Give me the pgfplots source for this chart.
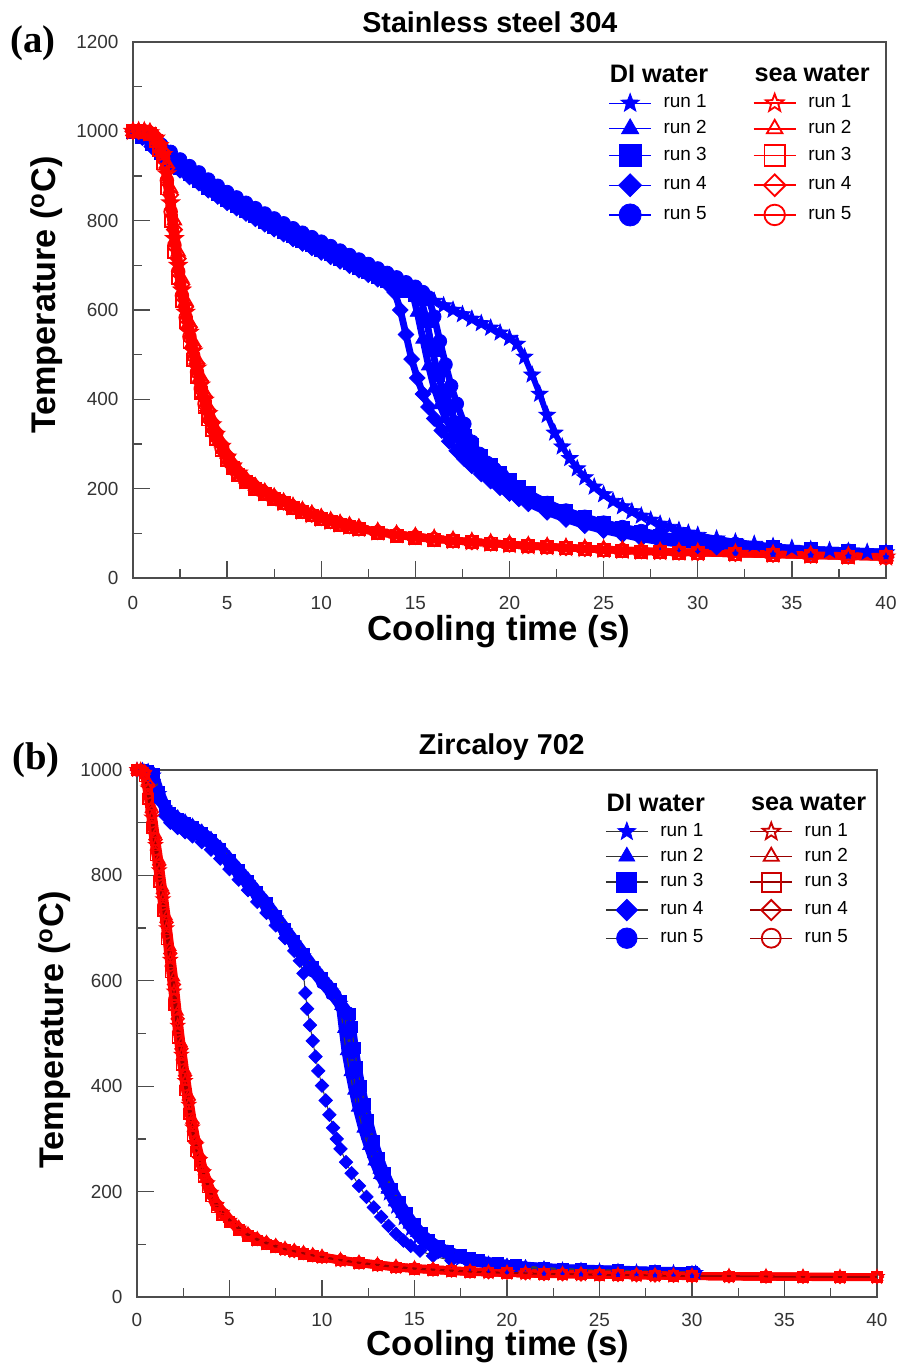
\documentclass[border=0pt]{standalone}
\usepackage{fontspec}
\setmainfont{Liberation Sans}
\newfontfamily\timesf{Liberation Serif}
\usepackage{pgfplots}
\usepackage{pgfplotstable}
\pgfplotsset{compat=1.18}

\def\starpath{%
 \pgfpathmoveto{\pgfpointpolar{90}{\pgfplotmarksize}}%
 \pgfpathlineto{\pgfpointpolar{126}{0.42\pgfplotmarksize}}%
 \pgfpathlineto{\pgfpointpolar{162}{\pgfplotmarksize}}%
 \pgfpathlineto{\pgfpointpolar{198}{0.42\pgfplotmarksize}}%
 \pgfpathlineto{\pgfpointpolar{234}{\pgfplotmarksize}}%
 \pgfpathlineto{\pgfpointpolar{270}{0.42\pgfplotmarksize}}%
 \pgfpathlineto{\pgfpointpolar{306}{\pgfplotmarksize}}%
 \pgfpathlineto{\pgfpointpolar{342}{0.42\pgfplotmarksize}}%
 \pgfpathlineto{\pgfpointpolar{18}{\pgfplotmarksize}}%
 \pgfpathlineto{\pgfpointpolar{54}{0.42\pgfplotmarksize}}%
 \pgfpathclose}
\pgfdeclareplotmark{fstar}{\starpath\pgfusepathqfillstroke}
\pgfdeclareplotmark{ostar}{\starpath\pgfusepathqstroke}

% ---------------- panel (a): stainless steel 304 ----------------
\pgfplotstableread[row sep=\\]{t T\\
0 1000\\ 0.5 990\\ 1 975\\ 1.5 958\\ 2 942\\ 2.5 925\\ 3 910\\ 3.5 896\\ 4 880\\ 4.5 866\\ 5 852\\ 5.5 840\\ 6 828\\ 6.5 816\\ 7 804\\ 7.5 793\\ 8 782\\ 8.5 771\\ 9 761\\ 9.5 751\\ 10 741\\ 10.5 731\\ 11 721\\ 11.5 711\\ 12 701\\ 12.5 691\\ 13 681\\ 13.5 671\\ 14 661\\ 14.5 650\\ 15 640\\ 15.5 630\\ 16 620\\ 16.5 610\\ 17 600\\ 17.5 590\\ 18 580\\ 18.5 570\\ 19 560\\ 19.5 549\\ 20 537\\ 20.4 524\\ 20.8 495\\ 21.2 455\\ 21.6 412\\ 22 365\\ 22.4 325\\ 22.8 294\\ 23.2 268\\ 23.6 245\\ 24 225\\ 24.5 204\\ 25 187\\ 25.5 172\\ 26 160\\ 26.5 149\\ 27 139\\ 27.5 130\\ 28 121\\ 28.5 114\\ 29 107\\ 29.5 101\\ 30 96\\ 31 88\\ 32 81\\ 33 76\\ 34 71\\ 35 67\\ 36 64\\ 37 62\\ 38 60\\ 39 58\\ 40 57\\
}\aDIi
\pgfplotstableread[row sep=\\]{t T\\
0 1000\\ 0.5 994\\ 1 981\\ 1.5 964\\ 2 948\\ 2.5 931\\ 3 916\\ 3.5 902\\ 4 886\\ 4.5 872\\ 5 858\\ 5.5 846\\ 6 834\\ 6.5 822\\ 7 810\\ 7.5 799\\ 8 788\\ 8.5 777\\ 9 767\\ 9.5 757\\ 10 747\\ 10.5 737\\ 11 727\\ 11.5 717\\ 12 707\\ 12.5 697\\ 13 687\\ 13.5 677\\ 14 667\\ 14.5 656\\ 14.8 646\\ 15.1 595\\ 15.4 535\\ 15.7 475\\ 16 425\\ 16.3 388\\ 16.6 357\\ 17 326\\ 17.5 294\\ 18 268\\ 18.5 247\\ 19 229\\ 19.5 213\\ 20 199\\ 20.5 186\\ 21 175\\ 22 155\\ 23 139\\ 24 125\\ 25 113\\ 26 103\\ 27 95\\ 28 88\\ 29 82\\ 30 77\\ 31 73\\ 32 70\\ 34 64\\ 36 60\\ 38 57\\ 40 54\\
}\aDIii
\pgfplotstableread[row sep=\\]{t T\\
0 1000\\ 0.5 988\\ 1 971\\ 1.5 952\\ 2 936\\ 2.5 919\\ 3 904\\ 3.5 890\\ 4 874\\ 4.5 860\\ 5 846\\ 5.5 834\\ 6 822\\ 6.5 810\\ 7 798\\ 7.5 787\\ 8 776\\ 8.5 765\\ 9 755\\ 9.5 745\\ 10 735\\ 10.5 725\\ 11 715\\ 11.5 705\\ 12 695\\ 12.5 685\\ 13 675\\ 13.5 665\\ 14 655\\ 14.5 644\\ 15 634\\ 15.3 625\\ 15.6 575\\ 15.9 510\\ 16.2 455\\ 16.5 413\\ 16.8 380\\ 17.2 346\\ 17.6 319\\ 18 297\\ 18.5 273\\ 19 253\\ 19.5 235\\ 20 219\\ 20.5 204\\ 21 191\\ 22 169\\ 23 151\\ 24 136\\ 25 123\\ 26 112\\ 27 103\\ 28 95\\ 29 89\\ 30 83\\ 31 79\\ 32 75\\ 34 69\\ 36 64\\ 38 61\\ 40 58\\
}\aDIiii
\pgfplotstableread[row sep=\\]{t T\\
0 1000\\ 0.5 986\\ 1 966\\ 1.5 946\\ 2 930\\ 2.5 913\\ 3 898\\ 3.5 884\\ 4 868\\ 4.5 854\\ 5 840\\ 5.5 828\\ 6 816\\ 6.5 804\\ 7 792\\ 7.5 781\\ 8 770\\ 8.5 759\\ 9 749\\ 9.5 739\\ 10 729\\ 10.5 719\\ 11 709\\ 11.5 699\\ 12 689\\ 12.5 679\\ 13 669\\ 13.5 659\\ 13.9 640\\ 14.2 600\\ 14.5 545\\ 14.8 490\\ 15.1 448\\ 15.4 412\\ 15.7 383\\ 16 357\\ 16.4 330\\ 16.8 306\\ 17.2 285\\ 17.6 267\\ 18 251\\ 18.5 233\\ 19 217\\ 19.5 202\\ 20 189\\ 20.5 177\\ 21 166\\ 22 147\\ 23 131\\ 24 117\\ 25 106\\ 26 97\\ 27 88\\ 28 81\\ 29 76\\ 30 72\\ 31 69\\ 32 66\\ 34 61\\ 36 57\\ 38 55\\ 40 52\\
}\aDIiv
\pgfplotstableread[row sep=\\]{t T\\
0 1000\\ 0.5 995\\ 1 984\\ 1.5 970\\ 2 954\\ 2.5 937\\ 3 922\\ 3.5 908\\ 4 892\\ 4.5 878\\ 5 864\\ 5.5 852\\ 6 840\\ 6.5 828\\ 7 816\\ 7.5 805\\ 8 794\\ 8.5 783\\ 9 773\\ 9.5 763\\ 10 753\\ 10.5 743\\ 11 733\\ 11.5 723\\ 12 713\\ 12.5 703\\ 13 693\\ 13.5 683\\ 14 673\\ 14.5 662\\ 15 652\\ 15.4 640\\ 15.7 628\\ 16 585\\ 16.3 530\\ 16.6 478\\ 16.9 430\\ 17.2 390\\ 17.6 345\\ 18 305\\ 18.4 278\\ 18.8 258\\ 19.2 244\\ 19.6 230\\ 20 216\\ 20.5 201\\ 21 189\\ 22 168\\ 23 151\\ 24 137\\ 25 124\\ 26 114\\ 27 105\\ 28 97\\ 29 90\\ 30 84\\ 31 80\\ 32 76\\ 34 69\\ 36 64\\ 38 61\\ 40 58\\
}\aDIv
\pgfplotstableread[row sep=\\]{t T\\
0 1000\\ 0.3 1000\\ 0.6 1000\\ 0.9 997\\ 1.2 985\\ 1.4 968\\ 1.6 948\\ 1.8 905\\ 2 840\\ 2.2 760\\ 2.4 700\\ 2.6 645\\ 2.8 595\\ 3 550\\ 3.2 508\\ 3.4 470\\ 3.6 432\\ 3.8 398\\ 4 368\\ 4.2 343\\ 4.4 322\\ 4.7 295\\ 5 271\\ 5.3 251\\ 5.6 235\\ 6 218\\ 6.5 203\\ 7 191\\ 7.5 180\\ 8 169\\ 8.5 159\\ 9 150\\ 9.5 142\\ 10 134\\ 10.5 127\\ 11 121\\ 11.5 116\\ 12 111\\ 13 103\\ 14 97\\ 15 92\\ 16 88\\ 17 84\\ 18 81\\ 19 78\\ 20 75\\ 21 72\\ 22 70\\ 23 68\\ 24 66\\ 25 64\\ 26 62\\ 27 60\\ 28 59\\ 29 58\\ 30 57\\ 32 55\\ 34 53\\ 36 51\\ 38 49\\ 40 47\\
}\aSWi
\pgfplotstableread[row sep=\\]{t T\\
0 1000\\ 0.3 1000\\ 0.6 1000\\ 0.9 999\\ 1.2 990\\ 1.4 976\\ 1.6 958\\ 1.8 928\\ 2 872\\ 2.2 800\\ 2.4 730\\ 2.6 670\\ 2.8 620\\ 3 572\\ 3.2 529\\ 3.4 489\\ 3.6 451\\ 3.8 415\\ 4 383\\ 4.2 355\\ 4.4 332\\ 4.7 303\\ 5 278\\ 5.3 257\\ 5.6 240\\ 6 222\\ 6.5 206\\ 7 193\\ 7.5 182\\ 8 171\\ 8.5 161\\ 9 152\\ 9.5 144\\ 10 136\\ 10.5 129\\ 11 123\\ 11.5 118\\ 12 113\\ 13 105\\ 14 99\\ 15 94\\ 16 89\\ 17 85\\ 18 82\\ 19 79\\ 20 76\\ 21 73\\ 22 71\\ 23 69\\ 24 67\\ 25 65\\ 26 63\\ 27 61\\ 28 60\\ 29 59\\ 30 58\\ 32 56\\ 34 54\\ 36 52\\ 38 50\\ 40 48\\
}\aSWii
\pgfplotstableread[row sep=\\]{t T\\
0 1000\\ 0.3 1000\\ 0.6 999\\ 0.9 994\\ 1.2 978\\ 1.4 958\\ 1.6 928\\ 1.8 872\\ 2 800\\ 2.2 730\\ 2.4 672\\ 2.6 620\\ 2.8 572\\ 3 529\\ 3.2 489\\ 3.4 451\\ 3.6 415\\ 3.8 383\\ 4 355\\ 4.2 332\\ 4.4 312\\ 4.7 287\\ 5 264\\ 5.3 246\\ 5.6 230\\ 6 214\\ 6.5 200\\ 7 188\\ 7.5 177\\ 8 167\\ 8.5 157\\ 9 148\\ 9.5 140\\ 10 132\\ 10.5 125\\ 11 119\\ 11.5 114\\ 12 109\\ 13 101\\ 14 95\\ 15 90\\ 16 86\\ 17 83\\ 18 80\\ 19 77\\ 20 74\\ 21 71\\ 22 69\\ 23 67\\ 24 65\\ 25 63\\ 26 61\\ 27 59\\ 28 58\\ 29 57\\ 30 56\\ 32 54\\ 34 52\\ 36 50\\ 38 48\\ 40 46\\
}\aSWiii
\pgfplotstableread[row sep=\\]{t T\\
0 1000\\ 0.3 1000\\ 0.6 1000\\ 0.9 998\\ 1.2 988\\ 1.4 972\\ 1.6 953\\ 1.8 918\\ 2 858\\ 2.2 780\\ 2.4 715\\ 2.6 657\\ 2.8 607\\ 3 561\\ 3.2 518\\ 3.4 480\\ 3.6 441\\ 3.8 406\\ 4 375\\ 4.2 349\\ 4.4 327\\ 4.7 299\\ 5 274\\ 5.3 254\\ 5.6 237\\ 6 220\\ 6.5 205\\ 7 192\\ 7.5 181\\ 8 170\\ 8.5 160\\ 9 151\\ 9.5 143\\ 10 135\\ 10.5 128\\ 11 122\\ 11.5 117\\ 12 112\\ 13 104\\ 14 98\\ 15 93\\ 16 88\\ 17 85\\ 18 81\\ 19 78\\ 20 76\\ 21 73\\ 22 71\\ 23 68\\ 24 66\\ 25 64\\ 26 63\\ 27 61\\ 28 60\\ 29 58\\ 30 57\\ 32 55\\ 34 53\\ 36 51\\ 38 49\\ 40 47\\
}\aSWiv
\pgfplotstableread[row sep=\\]{t T\\
0 1000\\ 0.3 1000\\ 0.6 1000\\ 0.9 996\\ 1.2 982\\ 1.4 963\\ 1.6 940\\ 1.8 890\\ 2 820\\ 2.2 745\\ 2.4 686\\ 2.6 632\\ 2.8 583\\ 3 540\\ 3.2 498\\ 3.4 461\\ 3.6 424\\ 3.8 390\\ 4 361\\ 4.2 337\\ 4.4 317\\ 4.7 291\\ 5 267\\ 5.3 248\\ 5.6 232\\ 6 216\\ 6.5 201\\ 7 189\\ 7.5 178\\ 8 168\\ 8.5 158\\ 9 149\\ 9.5 141\\ 10 133\\ 10.5 126\\ 11 120\\ 11.5 115\\ 12 110\\ 13 102\\ 14 96\\ 15 91\\ 16 87\\ 17 83\\ 18 80\\ 19 77\\ 20 74\\ 21 71\\ 22 69\\ 23 67\\ 24 65\\ 25 63\\ 26 62\\ 27 60\\ 28 59\\ 29 57\\ 30 56\\ 32 54\\ 34 52\\ 36 50\\ 38 48\\ 40 46\\
}\aSWv

% ---------------- panel (b): Zircaloy 702 ----------------
\pgfplotstableread[row sep=\\]{t T\\
0 1000\\ 0.3 1000\\ 0.6 998\\ 0.9 990\\ 1.2 955\\ 1.5 928\\ 1.8 914\\ 2.2 904\\ 2.6 896\\ 3 888\\ 3.5 877\\ 4 863\\ 4.5 846\\ 5 826\\ 5.5 806\\ 6 786\\ 6.5 764\\ 7 743\\ 7.5 719\\ 8 695\\ 8.5 671\\ 9 647\\ 9.5 623\\ 10 601\\ 10.5 580\\ 11 557\\ 11.2 545\\ 11.35 505\\ 11.5 465\\ 11.7 422\\ 11.9 386\\ 12.1 352\\ 12.4 311\\ 12.7 276\\ 13 246\\ 13.3 219\\ 13.6 196\\ 14 171\\ 14.4 149\\ 14.8 129\\ 15.2 113\\ 15.6 101\\ 16 92\\ 16.5 84\\ 17 77\\ 17.5 72\\ 18 68\\ 19 62\\ 20 58\\ 21 56\\ 22 54\\ 23 52\\ 24 51\\ 25 50\\ 26 49\\ 27 48\\ 28 47\\ 29 47\\ 30.2 46\\
}\bDIi
\pgfplotstableread[row sep=\\]{t T\\
0 1000\\ 0.3 1000\\ 0.6 999\\ 0.9 994\\ 1.2 962\\ 1.5 936\\ 1.8 922\\ 2.2 912\\ 2.6 904\\ 3 896\\ 3.5 885\\ 4 871\\ 4.5 854\\ 5 834\\ 5.5 814\\ 6 794\\ 6.5 772\\ 7 751\\ 7.5 727\\ 8 703\\ 8.5 679\\ 9 655\\ 9.5 631\\ 10 609\\ 10.5 588\\ 10.8 575\\ 11 552\\ 11.15 508\\ 11.3 466\\ 11.5 426\\ 11.7 391\\ 11.9 359\\ 12.2 319\\ 12.5 286\\ 12.8 257\\ 13.1 231\\ 13.5 203\\ 13.9 179\\ 14.3 157\\ 14.7 137\\ 15.1 121\\ 15.5 108\\ 16 97\\ 16.5 88\\ 17 81\\ 17.5 75\\ 18 71\\ 19 65\\ 20 61\\ 21 58\\ 22 55\\ 23 53\\ 24 52\\ 26 50\\ 28 48\\ 30 47\\
}\bDIii
\pgfplotstableread[row sep=\\]{t T\\
0 1000\\ 0.3 1000\\ 0.6 998\\ 0.9 992\\ 1.2 958\\ 1.5 932\\ 1.8 918\\ 2.2 908\\ 2.6 900\\ 3 892\\ 3.5 881\\ 4 867\\ 4.5 850\\ 5 830\\ 5.5 810\\ 6 790\\ 6.5 768\\ 7 747\\ 7.5 723\\ 8 699\\ 8.5 675\\ 9 651\\ 9.5 627\\ 10 605\\ 10.5 584\\ 11 561\\ 11.5 538\\ 11.6 512\\ 11.75 472\\ 11.9 437\\ 12.1 401\\ 12.3 366\\ 12.5 336\\ 12.8 296\\ 13.1 263\\ 13.4 236\\ 13.8 206\\ 14.2 181\\ 14.6 159\\ 15 139\\ 15.4 122\\ 15.8 109\\ 16.3 97\\ 16.8 88\\ 17.5 79\\ 18 74\\ 18.5 70\\ 19.5 64\\ 20.5 60\\ 22 56\\ 23 54\\ 24 53\\ 26 51\\ 28 49\\ 30 48\\
}\bDIiii
\pgfplotstableread[row sep=\\]{t T\\
0 1000\\ 0.3 999\\ 0.6 995\\ 0.9 982\\ 1.2 942\\ 1.5 914\\ 1.8 900\\ 2.2 890\\ 2.6 882\\ 3 874\\ 3.5 863\\ 4 849\\ 4.5 832\\ 5 812\\ 5.5 792\\ 6 772\\ 6.5 750\\ 7 729\\ 7.5 705\\ 8 681\\ 8.5 657\\ 8.8 638\\ 9 614\\ 9.1 577\\ 9.2 547\\ 9.35 516\\ 9.5 486\\ 9.65 456\\ 9.8 429\\ 10 401\\ 10.2 373\\ 10.4 346\\ 10.6 321\\ 10.8 300\\ 11 281\\ 11.3 256\\ 11.6 235\\ 12 211\\ 12.4 190\\ 12.8 170\\ 13.2 152\\ 13.6 135\\ 14 120\\ 14.4 107\\ 14.8 97\\ 15.3 88\\ 16 78\\ 17 69\\ 18 63\\ 19 59\\ 20 56\\ 22 52\\ 24 49\\ 26 47\\ 28 46\\ 30 45\\
}\bDIiv
\pgfplotstableread[row sep=\\]{t T\\
0 1000\\ 0.3 1000\\ 0.6 997\\ 0.9 986\\ 1.2 949\\ 1.5 922\\ 1.8 908\\ 2.2 898\\ 2.6 890\\ 3 882\\ 3.5 871\\ 4 857\\ 4.5 840\\ 5 820\\ 5.5 800\\ 6 780\\ 6.5 758\\ 7 737\\ 7.5 713\\ 8 689\\ 8.5 665\\ 9 641\\ 9.5 617\\ 10 595\\ 10.5 574\\ 11 551\\ 11.3 536\\ 11.45 500\\ 11.6 462\\ 11.8 425\\ 12 390\\ 12.2 358\\ 12.5 320\\ 12.8 286\\ 13.1 257\\ 13.4 231\\ 13.8 203\\ 14.2 178\\ 14.6 156\\ 15 137\\ 15.4 121\\ 15.8 109\\ 16.3 97\\ 16.8 88\\ 17.5 79\\ 18 74\\ 18.5 70\\ 19.5 64\\ 20.5 60\\ 22 55\\ 23 53\\ 24 52\\ 26 50\\ 28 48\\ 30.2 47\\
}\bDIv
\pgfplotstableread[row sep=\\]{t T\\
0 1000\\ 0.2 1000\\ 0.4 995\\ 0.6 965\\ 0.8 910\\ 1 858\\ 1.2 810\\ 1.4 755\\ 1.6 700\\ 1.8 640\\ 2 580\\ 2.2 515\\ 2.4 460\\ 2.6 410\\ 2.8 365\\ 3 322\\ 3.2 288\\ 3.4 260\\ 3.6 237\\ 3.8 216\\ 4 198\\ 4.3 175\\ 4.6 160\\ 5 145\\ 5.5 130\\ 6 118\\ 6.5 109\\ 7 102\\ 7.5 96\\ 8 91\\ 8.5 87\\ 9 83\\ 9.5 79\\ 10 76\\ 11 70\\ 12 65\\ 13 61\\ 14 57\\ 15 54\\ 16 52\\ 17 50\\ 18 48\\ 19 47\\ 20 46\\ 21 45\\ 22 44\\ 23 43.5\\ 24 43\\ 25 42.5\\ 26 42\\ 27 41.5\\ 28 41\\ 29 40.5\\ 30 40\\ 32 39.5\\ 34 39\\ 36 38.5\\ 38 38\\ 40 38\\
}\bSWi
\pgfplotstableread[row sep=\\]{t T\\
0 1000\\ 0.2 1000\\ 0.4 998\\ 0.6 978\\ 0.8 930\\ 1 878\\ 1.2 830\\ 1.4 777\\ 1.6 722\\ 1.8 664\\ 2 606\\ 2.2 541\\ 2.4 482\\ 2.6 430\\ 2.8 383\\ 3 338\\ 3.2 300\\ 3.4 270\\ 3.6 245\\ 3.8 224\\ 4 205\\ 4.3 180\\ 4.6 164\\ 5 148\\ 5.5 133\\ 6 120\\ 6.5 111\\ 7 104\\ 7.5 98\\ 8 92\\ 8.5 88\\ 9 84\\ 9.5 80\\ 10 77\\ 11 71\\ 12 66\\ 13 62\\ 14 58\\ 15 55\\ 16 53\\ 17 51\\ 18 49\\ 19 47.5\\ 20 46.5\\ 21 45.5\\ 22 44.5\\ 23 43.5\\ 24 43\\ 25 42.5\\ 26 42\\ 27 41.5\\ 28 41\\ 29 40.5\\ 30 40\\ 32 39.5\\ 34 39\\ 36 38.5\\ 38 38\\ 40 38\\
}\bSWii
\pgfplotstableread[row sep=\\]{t T\\
0 1000\\ 0.2 999\\ 0.4 988\\ 0.6 945\\ 0.8 890\\ 1 838\\ 1.2 788\\ 1.4 733\\ 1.6 678\\ 1.8 616\\ 2 554\\ 2.2 492\\ 2.4 440\\ 2.6 392\\ 2.8 347\\ 3 306\\ 3.2 276\\ 3.4 250\\ 3.6 228\\ 3.8 208\\ 4 191\\ 4.3 170\\ 4.6 156\\ 5 142\\ 5.5 127\\ 6 116\\ 6.5 107\\ 7 100\\ 7.5 94\\ 8 90\\ 8.5 86\\ 9 82\\ 9.5 78\\ 10 75\\ 11 69\\ 12 64\\ 13 60\\ 14 56\\ 15 53\\ 16 51\\ 17 49\\ 18 47.5\\ 19 46.5\\ 20 45.5\\ 21 44.5\\ 22 43.5\\ 23 43\\ 24 42.5\\ 25 42\\ 26 41.5\\ 27 41\\ 28 40.5\\ 29 40\\ 30 39.5\\ 32 39\\ 34 38.5\\ 36 38\\ 38 37.5\\ 40 37.5\\
}\bSWiii
\pgfplotstableread[row sep=\\]{t T\\
0 1000\\ 0.2 1000\\ 0.4 997\\ 0.6 972\\ 0.8 920\\ 1 868\\ 1.2 820\\ 1.4 766\\ 1.6 711\\ 1.8 652\\ 2 593\\ 2.2 528\\ 2.4 471\\ 2.6 420\\ 2.8 374\\ 3 330\\ 3.2 294\\ 3.4 265\\ 3.6 241\\ 3.8 220\\ 4 201\\ 4.3 177\\ 4.6 162\\ 5 146\\ 5.5 131\\ 6 119\\ 6.5 110\\ 7 103\\ 7.5 97\\ 8 91.5\\ 8.5 87.5\\ 9 83.5\\ 9.5 79.5\\ 10 76.5\\ 11 70.5\\ 12 65.5\\ 13 61.5\\ 14 57.5\\ 15 54.5\\ 16 52.5\\ 17 50.5\\ 18 48.5\\ 19 47\\ 20 46\\ 21 45\\ 22 44\\ 23 43.5\\ 24 43\\ 25 42.5\\ 26 42\\ 27 41.5\\ 28 41\\ 29 40.5\\ 30 40\\ 32 39.5\\ 34 39\\ 36 38.5\\ 38 38\\ 40 38\\
}\bSWiv
\pgfplotstableread[row sep=\\]{t T\\
0 1000\\ 0.2 1000\\ 0.4 992\\ 0.6 955\\ 0.8 900\\ 1 848\\ 1.2 799\\ 1.4 744\\ 1.6 689\\ 1.8 628\\ 2 567\\ 2.2 503\\ 2.4 450\\ 2.6 401\\ 2.8 356\\ 3 314\\ 3.2 282\\ 3.4 255\\ 3.6 232\\ 3.8 212\\ 4 194\\ 4.3 172\\ 4.6 158\\ 5 143\\ 5.5 128\\ 6 117\\ 6.5 108\\ 7 101\\ 7.5 95\\ 8 90.5\\ 8.5 86.5\\ 9 82.5\\ 9.5 78.5\\ 10 75.5\\ 11 69.5\\ 12 64.5\\ 13 60.5\\ 14 56.5\\ 15 53.5\\ 16 51.5\\ 17 49.5\\ 18 48\\ 19 47\\ 20 46\\ 21 45\\ 22 44\\ 23 43.5\\ 24 43\\ 25 42.5\\ 26 42\\ 27 41.5\\ 28 41\\ 29 40.5\\ 30 40\\ 32 39.5\\ 34 39\\ 36 38.5\\ 38 38\\ 40 38\\
}\bSWv

\pgfplotsset{
 myaxis/.style={
  scale only axis, xmin=0, xmax=40, ymin=0,
  xtick={0,5,...,40}, minor x tick num=1, minor y tick num=1,
  tick align=inside, tick pos=left,
  axis line style={draw=black!70, line width=0.6pt},
  every tick/.append style={draw=black!70, line width=0.5pt},
  major tick length=6.5pt, minor tick length=3.4pt,
  tick label style={font=\fontsize{7.2}{8.6}\selectfont, text=black!80},
  xticklabel style={yshift=-3.5pt},
  yticklabel style={xshift=-2pt},
  /pgf/number format/assume math mode=true,
  /pgf/number format/1000 sep={},
  clip=false,
  legend cell align=left, legend columns=2,
  legend image code/.code={\draw[mark repeat=2,mark phase=2,##1] plot coordinates {(0cm,0cm) (0.28cm,0cm) (0.56cm,0cm)};},
  legend style={anchor=north west, draw=none, fill=none, inner sep=0pt,
    row sep=2.7pt, font=\fontsize{7.2}{8.6}\selectfont,
    nodes={inner sep=0pt},
    /tikz/every odd column/.style={column sep=4.5pt},
    /tikz/every even column/.style={column sep=17pt}},
  title style={font=\bfseries\fontsize{10.9}{13}\selectfont, anchor=center, yshift=-6pt},
  xlabel style={font=\bfseries\fontsize{13.2}{15}\selectfont, anchor=center},
  ylabel style={font=\bfseries\fontsize{13}{15}\selectfont, anchor=center},
 },
}
\newcommand\hdr[1]{\hspace*{-20.4pt}{\fontsize{9.6}{11}\selectfont\bfseries #1}}

\begin{document}
\begin{tikzpicture}
\path[use as bounding box] (0,0) rectangle (341.62pt,-519.46pt);

% ===================== (a) =====================
\begin{axis}[myaxis, at={(50.54pt,-15.96pt)}, anchor=north west,
  width=286.14pt, height=203.68pt, ymax=1200, ytick={0,200,...,1200},
  title={Stainless steel 304},
  title style={at={(axis description cs:0.474,1.037)}},
  xlabel={Cooling time (s)},
  xlabel style={at={(axis description cs:0.486,-0.1007)}},
  ylabel={Temperature (\textsuperscript{o}C)},
  ylabel style={at={(axis description cs:-0.1142,0.528)}},
  legend style={at={(0.6308,0.958)}},
]
\addlegendimage{empty legend}\addlegendentry{\hdr{DI water}}
\addlegendimage{empty legend}\addlegendentry{\hdr{sea water}}
\addlegendimage{blue, line width=0.5pt, mark=fstar, mark size=3.7pt, mark options={fill=blue, line width=0.3pt}}\addlegendentry{run 1}
\addlegendimage{red, line width=0.6pt, mark=ostar, mark size=3.5pt, mark options={line width=0.7pt}}\addlegendentry{run 1}
\addlegendimage{blue, line width=0.5pt, mark=triangle*, mark size=3.8pt, mark options={fill=blue, line width=0.3pt}}\addlegendentry{run 2}
\addlegendimage{red, line width=0.6pt, mark=triangle, mark size=3.4pt, mark options={line width=0.7pt}}\addlegendentry{run 2}
\addlegendimage{blue, line width=0.5pt, mark=square*, mark size=4.2pt, mark options={fill=blue, line width=0.3pt}}\addlegendentry{run 3}
\addlegendimage{red, line width=0.6pt, mark=square, mark size=3.9pt, mark options={line width=0.7pt}}\addlegendentry{run 3}
\addlegendimage{blue, line width=0.5pt, mark=square*, mark size=3.1pt, mark options={rotate=45, fill=blue, line width=0.3pt}}\addlegendentry{run 4}
\addlegendimage{red, line width=0.6pt, mark=square, mark size=2.9pt, mark options={rotate=45, line width=0.7pt}}\addlegendentry{run 4}
\addlegendimage{blue, line width=0.5pt, mark=*, mark size=4.2pt, mark options={fill=blue, line width=0.3pt}}\addlegendentry{run 5}
\addlegendimage{red, line width=0.6pt, mark=o, mark size=3.9pt, mark options={line width=0.7pt}}\addlegendentry{run 5}

\addplot[forget plot, blue, line width=2.6pt, mark=triangle*, mark size=3.1pt, mark options={solid, fill=blue, line width=0.3pt}] table {\aDIii};
\addplot[forget plot, blue, line width=2.6pt, mark=square*, mark size=2.5pt, mark options={solid, fill=blue, line width=0.3pt}] table {\aDIiii};
\addplot[forget plot, blue, line width=2.6pt, mark=square*, mark size=2.1pt, mark options={solid, rotate=45, fill=blue, line width=0.3pt}] table {\aDIiv};
\addplot[forget plot, blue, line width=2.6pt, mark=*, mark size=2.6pt, mark options={solid, fill=blue, line width=0.3pt}] table {\aDIv};
\addplot[forget plot, blue, line width=2.2pt, mark=fstar, mark size=3.3pt, mark options={solid, fill=blue, line width=0.3pt}] table {\aDIi};

\addplot[forget plot, red, line width=2.6pt, mark=ostar, mark size=3.1pt, mark options={solid, line width=0.7pt}] table {\aSWi};
\addplot[forget plot, red, line width=2.6pt, mark=triangle, mark size=2.9pt, mark options={solid, line width=0.7pt}] table {\aSWii};
\addplot[forget plot, red, line width=2.6pt, mark=square, mark size=2.3pt, mark options={solid, line width=0.7pt}] table {\aSWiii};
\addplot[forget plot, red, line width=2.6pt, mark=square, mark size=2pt, mark options={solid, rotate=45, line width=0.7pt}] table {\aSWiv};
\addplot[forget plot, red, line width=2.6pt, mark=o, mark size=2.4pt, mark options={solid, line width=0.7pt}] table {\aSWv};
\end{axis}

% ===================== (b) =====================
\begin{axis}[myaxis, at={(52.06pt,-292.6pt)}, anchor=north west,
  width=281.2pt, height=200.26pt, ymax=1000, ytick={0,200,...,1000},
  xticklabel style={yshift=1pt},
  title={Zircaloy 702},
  title style={at={(axis description cs:0.493,1.0436)}},
  xlabel={Cooling time (s)},
  xlabel style={at={(axis description cs:0.488,-0.094)}},
  ylabel={Temperature (\textsuperscript{o}C)},
  ylabel style={at={(axis description cs:-0.1108,0.507)}},
  legend style={at={(0.632,0.956)}},
]
\addlegendimage{empty legend}\addlegendentry{\hdr{DI water}}
\addlegendimage{empty legend}\addlegendentry{\hdr{sea water}}
\addlegendimage{black!80, line width=0.5pt, mark=fstar, mark size=3.6pt, mark options={draw=blue, fill=blue, line width=0.3pt}}\addlegendentry{run 1}
\addlegendimage{red!60!black, line width=0.5pt, mark=ostar, mark size=3.4pt, mark options={draw=red!80!black, line width=0.7pt}}\addlegendentry{run 1}
\addlegendimage{black!80, line width=0.5pt, mark=triangle*, mark size=3.5pt, mark options={draw=blue, fill=blue, line width=0.3pt}}\addlegendentry{run 2}
\addlegendimage{red!60!black, line width=0.5pt, mark=triangle, mark size=3.3pt, mark options={draw=red!80!black, line width=0.7pt}}\addlegendentry{run 2}
\addlegendimage{black!80, line width=0.5pt, mark=square*, mark size=3.8pt, mark options={draw=blue, fill=blue, line width=0.3pt}}\addlegendentry{run 3}
\addlegendimage{red!60!black, line width=0.5pt, mark=square, mark size=3.6pt, mark options={draw=red!80!black, line width=0.7pt}}\addlegendentry{run 3}
\addlegendimage{black!80, line width=0.5pt, mark=square*, mark size=2.9pt, mark options={rotate=45, draw=blue, fill=blue, line width=0.3pt}}\addlegendentry{run 4}
\addlegendimage{red!60!black, line width=0.5pt, mark=square, mark size=2.7pt, mark options={rotate=45, draw=red!80!black, line width=0.7pt}}\addlegendentry{run 4}
\addlegendimage{black!80, line width=0.5pt, mark=*, mark size=3.9pt, mark options={draw=blue, fill=blue, line width=0.3pt}}\addlegendentry{run 5}
\addlegendimage{red!60!black, line width=0.5pt, mark=o, mark size=3.6pt, mark options={draw=red!80!black, line width=0.7pt}}\addlegendentry{run 5}

\addplot[forget plot, blue, line width=3.4pt] table {\bDIi};
\addplot[forget plot, blue, line width=3.4pt] table {\bDIii};
\addplot[forget plot, blue, line width=3.4pt] table {\bDIiii};
\addplot[forget plot, blue, line width=3.4pt] table {\bDIv};
\addplot[forget plot, black!75, line width=0.4pt, mark=triangle*, mark size=2.5pt, mark options={solid, draw=blue, fill=blue, line width=0.3pt}] table {\bDIii};
\addplot[forget plot, black!75, line width=0.4pt, mark=square*, mark size=2.1pt, mark options={solid, draw=blue, fill=blue, line width=0.3pt}] table {\bDIiii};
\addplot[forget plot, black!75, line width=0.4pt, mark=*, mark size=2.1pt, mark options={solid, draw=blue, fill=blue, line width=0.3pt}] table {\bDIv};
\addplot[forget plot, black!75, line width=0.4pt, mark=fstar, mark size=2.8pt, mark options={solid, draw=blue, fill=blue, line width=0.3pt}] table {\bDIi};
\addplot[forget plot, black!75, line width=0.4pt, mark=square*, mark size=1.8pt, mark options={solid, rotate=45, draw=blue, fill=blue, line width=0.3pt}] table {\bDIiv};

\addplot[forget plot, red, line width=3pt] table {\bSWi};
\addplot[forget plot, red, line width=3pt] table {\bSWii};
\addplot[forget plot, red, line width=3pt] table {\bSWiii};
\addplot[forget plot, red, line width=3pt] table {\bSWiv};
\addplot[forget plot, red, line width=3pt] table {\bSWv};
\addplot[forget plot, red!60!black, line width=0.4pt, mark=ostar, mark size=2.5pt, mark options={solid, draw=red, line width=0.6pt}] table {\bSWi};
\addplot[forget plot, red!60!black, line width=0.4pt, mark=triangle, mark size=2.3pt, mark options={solid, draw=red, line width=0.6pt}] table {\bSWii};
\addplot[forget plot, red!60!black, line width=0.4pt, mark=square, mark size=1.9pt, mark options={solid, draw=red, line width=0.6pt}] table {\bSWiii};
\addplot[forget plot, red!60!black, line width=0.4pt, mark=square, mark size=1.7pt, mark options={solid, rotate=45, draw=red, line width=0.6pt}] table {\bSWiv};
\addplot[forget plot, red!60!black, line width=0.4pt, mark=o, mark size=1.9pt, mark options={solid, draw=red, line width=0.6pt}] table {\bSWv};
\end{axis}

\node at (12.54pt,-16.34pt) {\timesf\bfseries\fontsize{14.7}{17}\selectfont (a)};
\node at (13.68pt,-288.8pt) {\timesf\bfseries\fontsize{14.7}{17}\selectfont (b)};
\end{tikzpicture}
\end{document}
